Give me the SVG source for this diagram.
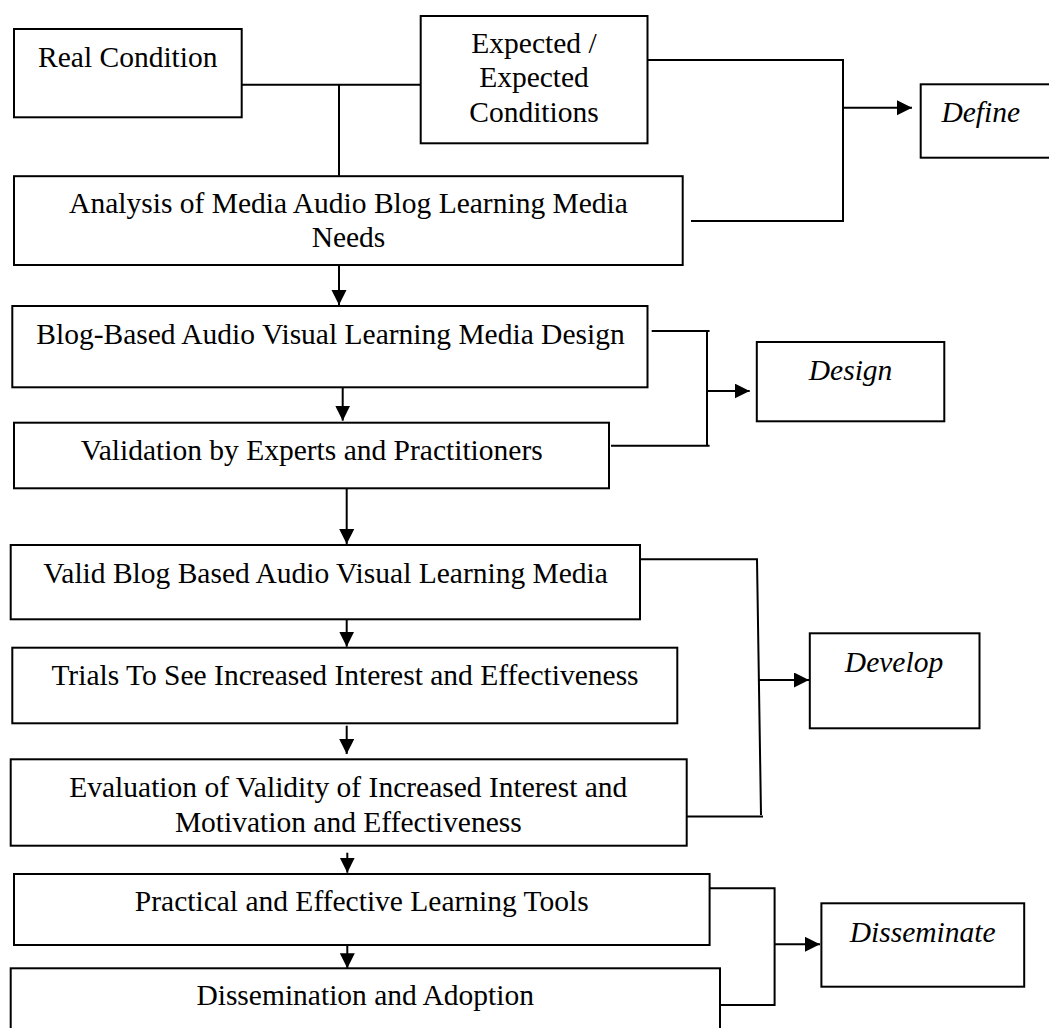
<svg xmlns="http://www.w3.org/2000/svg" width="1049" height="1028" viewBox="0 0 1049 1028">
<defs>
<style>
.box{fill:#fff;stroke:#000;stroke-width:2}
.t{font-family:"Liberation Serif","Times New Roman",serif;font-size:29.5px;fill:#000;text-anchor:middle}
.i{font-style:italic}
.c{fill:none;stroke:#000;stroke-width:2}
</style>
<marker id="ah" markerUnits="userSpaceOnUse" markerWidth="16" markerHeight="16" refX="15" refY="7.5" orient="auto">
<path d="M0,0 L15,7.5 L0,15 z" fill="#000"/>
</marker>
</defs>
<rect width="1049" height="1028" fill="#fff"/>
<g id="connectors">
<path class="c" d="M241.7,84.7 H420.7"/>
<path class="c" d="M339,84.7 V175.7"/>
<path class="c" d="M339,265 V305" marker-end="url(#ah)"/>
<path class="c" d="M647.5,60 H843 V221 H691"/>
<path class="c" d="M843,107.7 H912" marker-end="url(#ah)"/>
<path class="c" d="M342.7,387.3 V420.7" marker-end="url(#ah)"/>
<path class="c" d="M651.7,331 H709.6 M707,331 V445.7 M611,445.7 H709.6"/>
<path class="c" d="M707,391 H749.7" marker-end="url(#ah)"/>
<path class="c" d="M346.7,488.3 V544" marker-end="url(#ah)"/>
<path class="c" d="M640,559.3 H757 L761,815 M683,816.5 H763"/>
<path class="c" d="M758,680 H809" marker-end="url(#ah)"/>
<path class="c" d="M346.7,609.3 V646.7" marker-end="url(#ah)"/>
<path class="c" d="M346.7,725.7 V754" marker-end="url(#ah)"/>
<path class="c" d="M347.3,852.7 V872.7" marker-end="url(#ah)"/>
<path class="c" d="M347.3,945 V968.3" marker-end="url(#ah)"/>
<path class="c" d="M709.6,888.3 H774.6 V1005 H720.8"/>
<path class="c" d="M774.6,944.3 H820" marker-end="url(#ah)"/>
</g>
<g id="real-condition">
<rect class="box" x="14" y="29" width="227.7" height="88.3"/>
<text class="t" x="127.8" y="66.7">Real Condition</text>
</g>
<g id="expected-conditions">
<rect class="box" x="420.7" y="16" width="226.8" height="127.3"/>
<text class="t" x="534" y="53.3">Expected /</text>
<text class="t" x="534" y="87.3">Expected</text>
<text class="t" x="534" y="121.7">Conditions</text>
</g>
<g id="define">
<rect class="box" x="920.7" y="84.3" width="140" height="73.4"/>
<text class="t i" x="941.4" y="122.3" style="text-anchor:start">Define</text>
</g>
<g id="analysis">
<rect class="box" x="14" y="176.2" width="668.7" height="88.8"/>
<text class="t" x="348.5" y="213.3">Analysis of Media Audio Blog Learning Media</text>
<text class="t" x="348.5" y="247.3">Needs</text>
</g>
<g id="blog-design">
<rect class="box" x="12.3" y="306" width="635.2" height="81.3"/>
<text class="t" x="330.5" y="344">Blog-Based Audio Visual Learning Media Design</text>
</g>
<g id="validation">
<rect class="box" x="14" y="422.7" width="595" height="65.6"/>
<text class="t" x="311.7" y="460">Validation by Experts and Practitioners</text>
</g>
<g id="design">
<rect class="box" x="756.8" y="342" width="187.5" height="79.3"/>
<text class="t i" x="850.6" y="380">Design</text>
</g>
<g id="valid-media">
<rect class="box" x="10.7" y="545" width="629.3" height="74.3"/>
<text class="t" x="325.6" y="583.3">Valid Blog Based Audio Visual Learning Media</text>
</g>
<g id="trials">
<rect class="box" x="12.3" y="647.7" width="665" height="75.6"/>
<text class="t" x="345" y="685">Trials To See Increased Interest and Effectiveness</text>
</g>
<g id="develop">
<rect class="box" x="809.8" y="633.3" width="169.7" height="95"/>
<text class="t i" x="894" y="671.7">Develop</text>
</g>
<g id="evaluation">
<rect class="box" x="10.7" y="759.3" width="676" height="86.4"/>
<text class="t" x="348.3" y="796.7">Evaluation of Validity of Increased Interest and</text>
<text class="t" x="348.3" y="831.7">Motivation and Effectiveness</text>
</g>
<g id="practical">
<rect class="box" x="14" y="874" width="695.6" height="71"/>
<text class="t" x="361.8" y="911">Practical and Effective Learning Tools</text>
</g>
<g id="dissemination">
<rect class="box" x="10.7" y="968.3" width="709.3" height="80"/>
<text class="t" x="365.2" y="1005">Dissemination and Adoption</text>
</g>
<g id="disseminate">
<rect class="box" x="821.4" y="903.3" width="202.8" height="83.4"/>
<text class="t i" x="922.6" y="941.7">Disseminate</text>
</g>
</svg>
